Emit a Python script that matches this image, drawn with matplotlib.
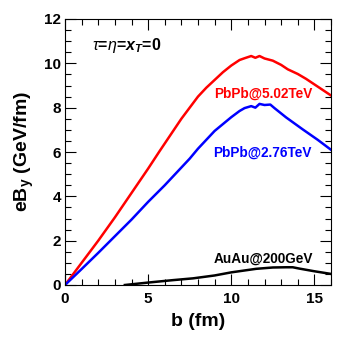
import matplotlib
matplotlib.use("Agg")
import matplotlib.pyplot as plt
from matplotlib.ticker import MultipleLocator

plt.rcParams['font.family'] = ['Liberation Sans', 'DejaVu Sans']
plt.rcParams['mathtext.fontset'] = 'custom'
plt.rcParams['mathtext.rm'] = 'Liberation Sans'
plt.rcParams['mathtext.it'] = 'Liberation Sans:italic'
plt.rcParams['mathtext.bf'] = 'Liberation Sans:bold'
plt.rcParams['mathtext.bfit'] = 'Liberation Sans:bold:italic'

b_red = [0, 1, 2, 3, 4, 5, 5.7, 7, 8, 8.5, 9, 9.5, 10, 10.5, 10.8, 11.2, 11.45, 11.7, 12.0, 12.5, 13.0, 13.4, 14.0, 14.5, 15.2, 16]
v_red = [0, 1.0, 2.0, 3.05, 4.15, 5.25, 6.05, 7.5, 8.5, 8.9, 9.25, 9.6, 9.9, 10.15, 10.23, 10.33, 10.25, 10.33, 10.22, 10.12, 9.93, 9.73, 9.52, 9.3, 8.95, 8.55]

b_blue = [0, 1, 2, 3, 4, 5, 6, 7, 7.5, 8, 9, 10, 10.5, 10.8, 11.2, 11.45, 11.7, 12.0, 12.35, 12.6, 13.3, 14.3, 15.2, 16]
v_blue = [0, 0.72, 1.45, 2.2, 2.95, 3.75, 4.5, 5.3, 5.7, 6.15, 6.95, 7.57, 7.85, 7.98, 8.07, 8.0, 8.17, 8.12, 8.14, 7.98, 7.56, 7.02, 6.55, 6.1]

b_black = [3.6, 5.0, 6.5, 7.7, 9.0, 10.0, 11.5, 12.5, 13.3, 13.7, 14.1, 15.0, 16]
v_black = [0.0, 0.11, 0.22, 0.3, 0.43, 0.57, 0.73, 0.79, 0.8, 0.8, 0.74, 0.62, 0.5]

labels = ["PbPb@5.02TeV", "PbPb@2.76TeV", "AuAu@200GeV"]

fig = plt.figure(figsize=(3.43, 3.43), dpi=100)
ax = fig.add_axes([65/343, 1-285/343, 266/343, 266/343])

ax.plot(b_red, v_red, color='#ff0000', lw=1.8)
ax.plot(b_blue, v_blue, color='#0000ff', lw=1.8)
ax.plot(b_black, v_black, color='black', lw=1.8)

ax.set_xlim(0, 16)
ax.set_ylim(0, 12)
ax.xaxis.set_major_locator(MultipleLocator(5))
ax.xaxis.set_minor_locator(MultipleLocator(1))
ax.yaxis.set_major_locator(MultipleLocator(2))
ax.yaxis.set_minor_locator(MultipleLocator(0.5))
ax.tick_params(which='both', direction='in', top=True, right=True, width=0.8)
ax.tick_params(which='major', length=8, labelsize=11)
ax.tick_params(axis='x', which='major', pad=5)
ax.tick_params(axis='y', which='major', pad=3)
ax.tick_params(which='minor', length=4)
for lab in ax.get_xticklabels() + ax.get_yticklabels():
    lab.set_fontweight('bold')
for s in ax.spines.values():
    s.set_linewidth(0.8)

ax.set_xlabel('b (fm)', fontsize=14, fontweight='bold', labelpad=5)
ax.set_ylabel(r'eB$_{\mathbf{y}}$ (GeV/fm)', fontsize=14, fontweight='bold', labelpad=6)

ax.text(11.9, 8.65, labels[0], color='#ff0000', fontsize=9.8, fontweight='bold', ha='center', va='center')
ax.text(11.9, 5.97, labels[1], color='#0000ff', fontsize=9.8, fontweight='bold', ha='center', va='center')
ax.text(11.95, 1.2, labels[2], color='black', fontsize=9.8, fontweight='bold', ha='center', va='center')
ax.text(1.6, 10.8, r'$\it{\tau}$=$\it{\eta}$=$\mathbfit{x_{T}}$=0', fontsize=11.5, fontweight='bold', ha='left', va='center')

fig.savefig('out.png', dpi=100)
